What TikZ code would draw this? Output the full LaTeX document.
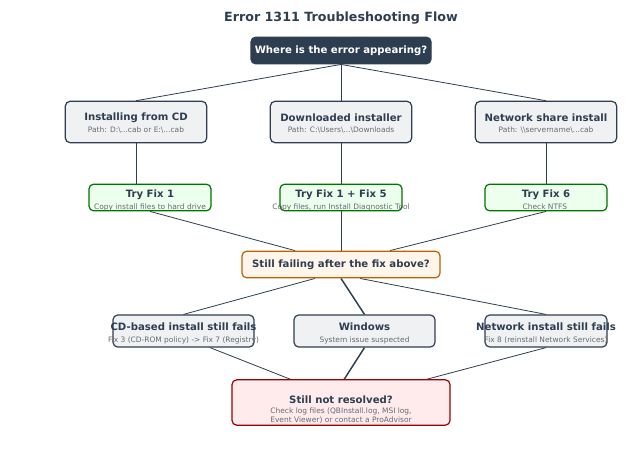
\documentclass[tikz,border=0pt]{standalone}
\usepackage{fontspec}
\setmainfont{DejaVu Sans}
\usetikzlibrary{calc,backgrounds}
\definecolor{navy}{HTML}{2D3E50}
\definecolor{subgrey}{HTML}{666A70}
\tikzset{
    box/.style={draw=navy, line width=0.9pt, rounded corners=3.5pt, fill=#1},
    head/.style={font=\bfseries\fontsize{7.6}{9}\selectfont, text=navy},
    sub/.style={font=\fontsize{5.6}{6.6}\selectfont, text=subgrey, align=center},
    link/.style={draw=navy, line width=0.6pt},
}
\begin{document}
\begin{tikzpicture}[x=0.75pt, y=-0.75pt]
    \useasboundingbox (0,0) rectangle (641,453);
    % Title
    \node[font=\bfseries\fontsize{9.5}{11}\selectfont, text=navy] (title) at (341,18) {Error 1311 Troubleshooting Flow};

    % Question
    \node[box=navy, minimum width=135pt, minimum height=20pt] (where) at (341,50.5) {};
    \node[head, text=white] at (where) {Where is the error appearing?};

    % Sources
    \def\srcy{122}
    \foreach \name/\x/\ttl/\pth in {cd/136/Installing from CD/{Path: D:\textbackslash...cab or E:\textbackslash...cab},
                                   dl/341/Downloaded installer/{Path: C:\textbackslash Users\textbackslash...\textbackslash Downloads},
                                   net/546/Network share install/{Path: \textbackslash\textbackslash servername\textbackslash...cab}} {
        \node[box=navy!7, minimum width=106pt, minimum height=31pt] (\name) at (\x,\srcy) {};
        \node[head] at ($(\name)+(0,-4)$) {\ttl};
        \node[sub] at ($(\name)+(0,8.5)$) {\pth};
    }

    % Fixes
    \foreach \name/\x/\ttl/\txt in {fixa/150/Try Fix 1/Copy install files to hard drive,
                                   fixb/341/Try Fix 1 + Fix 5/{Copy files, run Install Diagnostic Tool},
                                   fixc/546/Try Fix 6/Check NTFS / SMB / firewall ports} {
        \node[box=green!7, draw=green!45!black, minimum width=91.5pt, minimum height=20pt] (\name) at (\x,197.5) {};
        \node[head] at ($(\name)+(0,-3)$) {\ttl};
        \node[sub] at ($(\name)+(0,9.5)$) {\txt};
    }

    % Still failing
    \node[box=orange!8, draw=orange!75!black, minimum width=148.5pt, minimum height=20pt] (fail) at (341,264.5) {};
    \node[head] at (fail) {Still failing after the fix above?};

    % Follow-ups
    \foreach \name/\x/\w/\ttl/\txt in {cdf/183.5/105.75/CD-based install still fails/Fix 3 (CD-ROM policy) -> Fix 7 (Registry),
                                      win/364.5/105.75/Windows/System issue suspected/{Fix 4 (sfc /scannow, msiexec re-register)},
                                      netf/546/91.5/Network install still fails/Fix 8 (reinstall Network Services)} {
        \node[box=navy!7, minimum width=\w pt, minimum height=24pt] (\name) at (\x,331) {};
        \node[head] at ($(\name)+(0,-4)$) {\ttl};
        \node[sub] at ($(\name)+(0,9.5)$) {\txt};
    }

    % Not resolved
    \node[box=red!8, draw=red!60!black, minimum width=163.5pt, minimum height=34pt] (unres) at (341,402.5) {};
    \node[head] at ($(unres)+(0,-3)$) {Still not resolved?};
    \node[sub] at ($(unres)+(0,13)$) {Check log files (QBInstall.log, MSI log,\\Event Viewer) or contact a ProAdvisor};

    % Connectors
    \begin{scope}[on background layer]
        \foreach \dst in {cd,dl,net} \draw[link] (where.south) -- (\dst.north);
        \draw[link] (cd.south -| 136,0) -- (fixa.north -| 136,0);
        \draw[link] (dl.south) -- (fixb.north);
        \draw[link] (net.south) -- (fixc.north);
        \draw[link] (fixa.south) -- ($(fail.north)+(-46,0)$);
        \draw[link] (fixb.south) -- (fail.north);
        \draw[link] (fixc.south) -- ($(fail.north)+(49,0)$);
        \draw[link] ($(fail.south)+(-26,0)$) -- (cdf.north);
        \draw[link, line width=1.1pt] (fail.south) -- (win.north);
        \draw[link] ($(fail.south)+(19,0)$) -- (netf.north);
        \draw[link] (cdf.south -| 210,0) -- ($(unres.north)+(-38,5)$);
        \draw[link, line width=1.1pt] (win.south) -- ($(unres.north)+(0,5)$);
        \draw[link] (netf.south) -- ($(unres.north)+(67,5)$);
    \end{scope}
\end{tikzpicture}
\end{document}
